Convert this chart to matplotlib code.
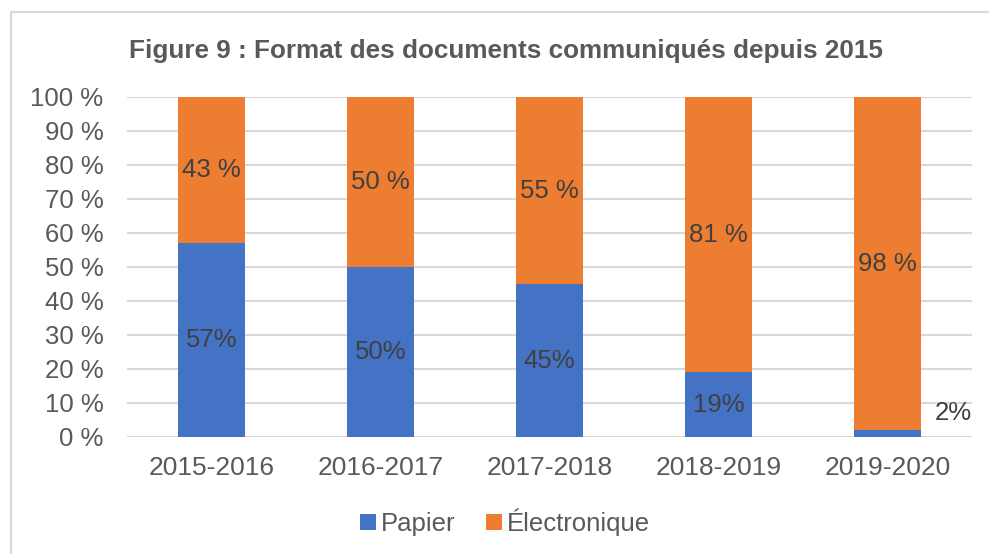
import matplotlib.pyplot as plt
import numpy as np
from matplotlib.patches import Rectangle

plt.rcParams['font.family'] = ['Liberation Sans', 'DejaVu Sans']

years = ['2015-2016', '2016-2017', '2017-2018', '2018-2019', '2019-2020']
papier = [57, 50, 45, 19, 2]
electronique = [43, 50, 55, 81, 98]
papier_labels = ['57%', '50%', '45%', '19%', '2%']
elec_labels = ['43 %', '50 %', '55 %', '81 %', '98 %']

blue = '#4472C4'
orange = '#ED7D31'
grey = '#595959'

fig = plt.figure(figsize=(9.89, 5.54), dpi=100)
# light frame around the chart area
fig.patches.append(Rectangle((11 / 989, -0.1), 2.0, 1.1 - 12 / 554,
                             transform=fig.transFigure, fill=False,
                             edgecolor='#d9d9d9', linewidth=1.5))
ax = fig.add_axes([127 / 989, 1 - 437 / 554, 845 / 989, 340 / 554])

x = np.arange(len(years))
ax.bar(x, papier, width=0.4, color=blue, label='Papier', zorder=3)
ax.bar(x, electronique, width=0.4, bottom=papier, color=orange, label='Électronique', zorder=3)

for i in range(len(years)):
    if papier[i] > 5:
        ax.text(x[i], papier[i] / 2, papier_labels[i], ha='center', va='center',
                fontsize=18.5, color='#404040', zorder=4)
    else:
        # small segment: label goes beside the bar
        ax.text(x[i] + 0.39, 7, papier_labels[i], ha='center', va='center',
                fontsize=18.5, color='#404040', zorder=4)
    ax.text(x[i], papier[i] + electronique[i] / 2, elec_labels[i], ha='center', va='center',
            fontsize=18.5, color='#404040', zorder=4)

ax.set_xlim(-0.5, 4.5)
ax.set_ylim(0, 100)
ax.set_yticks(range(0, 101, 10))
ax.set_yticklabels([f'{v} %' for v in range(0, 101, 10)])
ax.set_xticks(x)
ax.set_xticklabels(years)
ax.tick_params(axis='both', length=0, labelcolor=grey)
ax.tick_params(axis='y', pad=17, labelsize=18.5)
ax.tick_params(axis='x', pad=14, labelsize=19)
ax.grid(axis='y', color='#d9d9d9', linewidth=1.5, zorder=0)
for s in ax.spines.values():
    s.set_visible(False)

fig.text(506 / 989, 1 - 58 / 554, 'Figure 9 : Format des documents communiqués depuis 2015',
         ha='center', va='baseline', fontsize=18.8, fontweight='bold', color=grey)

fig.legend(loc='center', bbox_to_anchor=(505 / 989, 1 - 522 / 554), ncol=2, frameon=False,
           fontsize=18.5, labelcolor=grey, handlelength=0.6, handleheight=0.6,
           handletextpad=0.2, columnspacing=1.2)

fig.savefig('out.png', dpi=100)
